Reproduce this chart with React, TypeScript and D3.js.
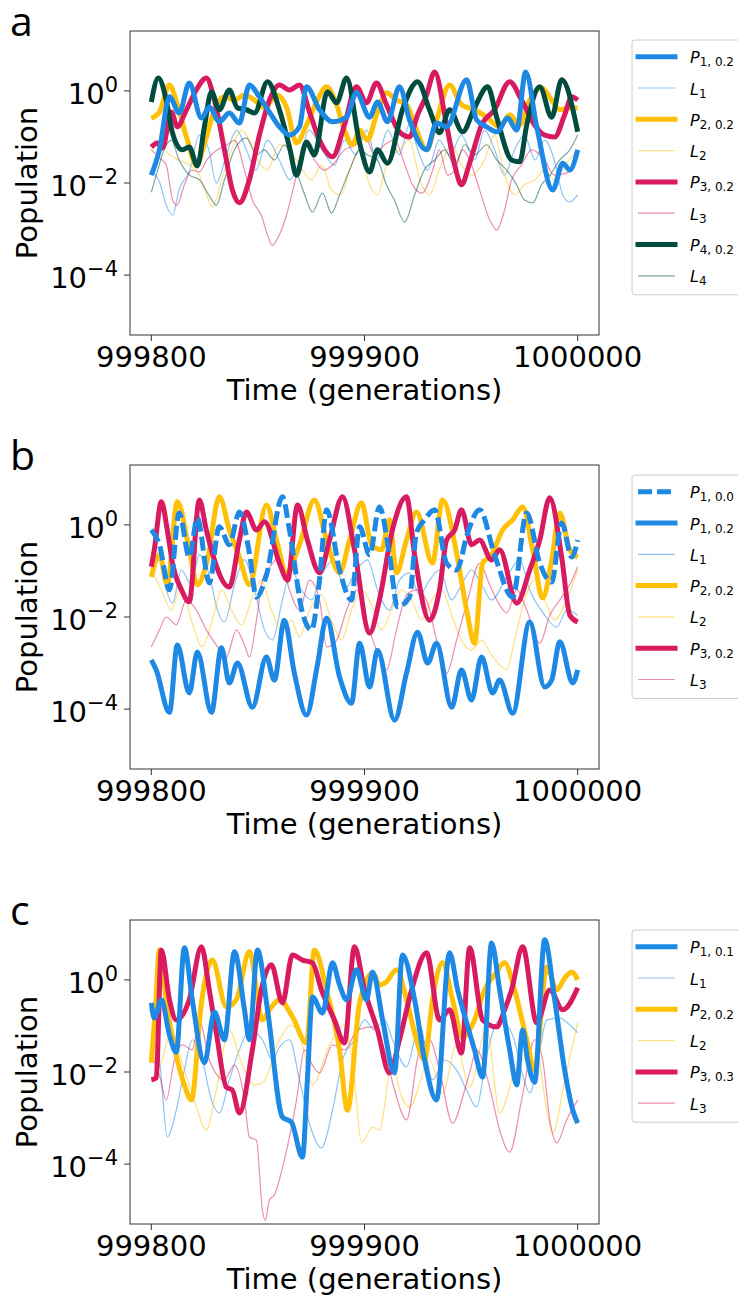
import React from "react";
import * as d3 from "d3";

type Pt = [number, number]; // [generation offset from T0, log10(population)]

const T0 = 999800;
const X_TICKS = [999800, 999900, 1000000];
const Y_TICK_EXP = [0, -2, -4];
const Y_MIN_EXP = -5.3;
const Y_MAX_EXP = 1.3;

const BLUE = "#1E88E5";
const YELLOW = "#FFC107";
const RED = "#D81B60";
const GREEN = "#004D40";

// ---------- panel a ----------
const aP1: Pt[] = [[0,-1.83],[3.8,-1.28],[8.5,-0.13],[13.1,-0.48],[17.8,0.17],[23.5,-0.59],[27.2,-0.35],[31.9,-0.67],[36.6,-0.48],[41.3,-0.70],[46,0.13],[50.7,-0.13],[55.4,-0.46],[60.1,-0.78],[64.8,-0.96],[69.5,-0.78],[72.8,0.09],[78.9,-0.41],[85,-0.67],[91.6,-0.57],[96.2,-0.04],[102.4,-0.57],[106.1,-0.24],[110.8,-0.67],[116.4,0.09],[121.1,-0.63],[129.1,-1.28],[133.8,-0.70],[138.5,-0.78],[147.9,0.24],[152.6,-0.63],[157.3,-0.78],[162.4,-0.89],[167.1,-0.59],[171.4,-0.85],[175.6,0.41],[180.8,-0.78],[188.3,-2.15],[193,-1.57],[196.3,-1.72],[200,-1.28]];
const aL1: Pt[] = [[0,-1.72],[4,-2.0],[7,-2.48],[10,-2.70],[13,-2.15],[18,-1.72],[22.5,-0.96],[27,-1.28],[30.5,-2.0],[35,-1.43],[40,-0.85],[44.6,-1.28],[49,-1.72],[54.5,-1.07],[60,-1.50],[65,-1.93],[69.5,-1.50],[74,-0.85],[80,-1.28],[86,-1.61],[90.6,-1.07],[96,-1.39],[101,-0.85],[105.6,-1.50],[111,-0.85],[116.4,-1.39],[121,-0.74],[125,-1.28],[129.6,-1.72],[135,-1.07],[140,-1.39],[145.5,-0.96],[151.6,-1.50],[156.3,-0.85],[161,-1.28],[165.7,-1.83],[170.4,-1.28],[175,-0.96],[180,-1.50],[184.5,-1.07],[189,-1.50],[193,-2.26],[196.3,-2.41],[200,-2.26]];
const aP2: Pt[] = [[0,-0.59],[3.8,-0.46],[8.5,0.13],[12.2,-0.30],[16.9,-1.07],[21.1,-1.61],[25.4,-1.07],[29.6,-0.41],[34.3,-0.13],[39,-0.20],[43.7,-0.09],[48.4,-0.20],[53.1,-0.37],[58.7,-0.09],[63.4,-0.35],[68.1,-1.13],[72.8,-0.74],[77.9,-0.20],[82.2,0.09],[86.9,-0.30],[90.6,-0.85],[94.4,-1.17],[97.7,-0.85],[101.4,-1.07],[105.6,-0.52],[110.3,-0.04],[115,-0.20],[119.7,-0.30],[124.4,-0.85],[129.1,-1.28],[133.8,-0.63],[139.9,0.13],[145.5,-0.30],[151.6,-0.41],[157.3,-0.57],[163.4,-0.78],[168.1,-0.52],[172.8,-0.74],[177.5,-0.20],[183.1,0.07],[187.8,-0.20],[191.6,-0.41],[196.3,-0.37],[200,-0.37]];
const aL2: Pt[] = [[0,-1.28],[4,-1.17],[8.5,-1.39],[13,-1.50],[18,-1.61],[22.5,-1.83],[26,-2.26],[28.6,-2.52],[33,-1.93],[37.6,-1.28],[42.3,-0.85],[46,-1.07],[50,-1.50],[54.5,-1.72],[60,-1.17],[65,-1.28],[69.5,-1.61],[75,-1.93],[80,-1.61],[84.5,-2.15],[89,-2.26],[93,-1.72],[97.7,-1.28],[102.4,-2.04],[106,-2.26],[111,-1.50],[116.4,-1.28],[121,-1.07],[126,-1.93],[130.5,-2.26],[135,-1.72],[141,-1.17],[145.5,-1.61],[150,-1.83],[156.3,-1.50],[161,-0.96],[165.7,-1.83],[170.4,-2.26],[175,-2.04],[180,-1.93],[184.5,-1.72],[189,-1.93],[194,-1.61],[200,-1.28]];
const aP3: Pt[] = [[0,-1.22],[2.8,-1.13],[5.2,-1.24],[9.4,-0.46],[12.2,-0.78],[16,-0.46],[21.1,0.02],[25.8,0.28],[29.6,-0.20],[34.3,-1.28],[38,-2.15],[41.3,-2.43],[46,-1.93],[50.7,-0.96],[55.4,-0.20],[60.1,0.13],[64.8,0.02],[69.5,0.13],[74.2,-0.46],[78.9,-1.07],[85,-1.43],[90.6,-0.74],[96.2,0.09],[100.9,-0.26],[105.6,0.17],[110.3,-0.30],[116.4,-0.89],[121.1,-1.0],[124.9,-0.52],[129.1,-0.09],[132.9,0.41],[138.5,-0.74],[142.3,-1.61],[145.5,-2.04],[149.3,-1.57],[154.9,-0.74],[161,-0.41],[168.1,0.20],[173.7,-0.20],[179.8,-0.74],[184.5,-0.96],[189.2,-1.0],[193.9,-0.52],[197.2,-0.13],[200,-0.20]];
const aL3: Pt[] = [[0,-1.28],[4,-1.46],[7,-1.61],[10,-2.37],[12,-2.48],[15.5,-2.04],[19,-1.72],[22.5,-1.76],[26,-1.50],[31,-1.28],[35.7,-1.17],[39,-1.07],[43.7,-1.72],[47.4,-2.37],[51.6,-2.70],[54.5,-3.13],[56.8,-3.35],[60,-3.13],[63.4,-2.70],[67,-2.04],[72,-1.17],[76.5,-1.50],[81,-1.72],[85,-1.61],[90.6,-1.28],[96,-1.17],[100,-0.96],[104.7,-1.39],[109.4,-1.17],[114,-1.07],[119,-1.61],[122.5,-2.04],[127,-2.22],[132,-1.72],[135,-1.28],[139,-1.83],[142.3,-1.72],[146,-1.28],[149.3,-1.50],[154,-2.15],[158.7,-2.80],[162,-3.02],[165.7,-2.59],[169,-1.93],[173.7,-1.61],[178.4,-1.28],[184.5,-1.50],[189,-1.83],[195,-1.78],[200,-1.28]];
const aP4: Pt[] = [[0,-0.24],[3.3,0.28],[7,-0.20],[9.9,-0.91],[14.6,-1.28],[17.8,-1.22],[21.6,-1.63],[24.9,-0.78],[28.2,-0.02],[31.9,-0.41],[36.6,0.02],[40.4,-0.37],[44.6,-0.41],[48.4,-0.48],[54.5,0.20],[60.1,-0.41],[64.8,-1.22],[68.1,-1.83],[72.8,-1.11],[76.5,-1.39],[82.6,-0.02],[86.9,-0.26],[91.6,0.28],[97.7,-1.13],[102.4,-1.76],[106.1,-1.28],[110.8,-1.57],[117.8,-0.41],[124.9,0.20],[130.5,-0.41],[135.2,-0.91],[139.9,-0.41],[146,-0.89],[151.6,-0.37],[157.8,0.09],[162,-0.57],[169,-1.50],[172.8,-1.54],[176.1,-0.74],[182.2,0.09],[187.8,-0.57],[192.5,0.24],[200,-0.89]];
const aL4: Pt[] = [[0,-2.20],[3,-1.72],[6,-1.28],[9.4,-1.07],[13,-1.50],[18,-1.83],[22.5,-1.93],[27,-2.26],[30.5,-2.48],[34.3,-1.93],[39,-1.28],[44.6,-1.02],[49.3,-1.39],[53,-1.28],[57.7,-1.50],[62.4,-1.17],[67,-1.61],[72,-2.26],[75.6,-2.63],[80.3,-2.22],[84.5,-2.65],[88.3,-2.26],[93,-1.72],[97.7,-1.28],[101.4,-1.39],[106,-1.50],[110.3,-2.04],[114,-2.37],[118.8,-2.85],[123.5,-2.26],[128,-1.72],[133,-1.50],[137.6,-1.28],[142.3,-1.61],[147,-1.17],[151.6,-1.39],[157.3,-1.17],[162,-1.50],[166.7,-1.72],[171.4,-2.04],[175,-2.37],[179,-2.43],[183,-2.04],[187,-1.83],[191.6,-1.50],[196.3,-1.28],[200,-0.96]];

// ---------- panel b ----------
const bP10: Pt[] = [[0,-0.11],[3.8,-0.43],[8.5,-1.41],[13.1,0.26],[17.8,-0.70],[21.6,0.15],[27.2,-1.26],[31.9,-0.04],[36.6,-0.43],[41.3,0.28],[46,-0.61],[49.3,-1.57],[54,-1.09],[61.5,0.61],[64.8,-0.11],[70.9,-1.91],[75.1,-2.28],[78.9,-1.20],[82.2,0.33],[88.3,-0.98],[93.9,-1.63],[97.7,-0.04],[102.4,-0.65],[107,0.39],[111.7,-0.65],[115.5,-1.78],[121.1,-1.57],[124.4,-0.17],[128.2,0.11],[132.9,0.33],[138.5,-0.83],[143.2,-0.98],[148.4,-0.17],[154,0.33],[161,-0.65],[169.5,-1.57],[176.1,0.26],[182.2,-0.83],[187.8,-1.24],[192.5,0.04],[197.2,-0.70],[200,-0.33]];
const bP1: Pt[] = [[0,-2.93],[2.3,-3.15],[8.5,-4.07],[12.2,-2.61],[17.8,-3.65],[21.6,-2.76],[28.2,-4.07],[32.9,-2.67],[36.6,-3.43],[40.4,-3.0],[47.4,-3.96],[54,-2.87],[57.7,-3.37],[62.4,-2.07],[67.1,-3.22],[72.8,-4.13],[77.9,-3.04],[82.2,-2.02],[88.3,-3.30],[93.9,-3.87],[97.7,-2.57],[102.4,-3.52],[106.1,-2.72],[114.1,-4.24],[119.7,-3.22],[124.9,-2.33],[129.6,-3.0],[133.8,-2.57],[140.9,-3.96],[145.5,-3.15],[150.2,-3.80],[154.9,-2.87],[160.1,-3.65],[163.4,-3.37],[169.5,-4.09],[177.5,-2.11],[184.5,-3.52],[187.8,-3.37],[191.6,-2.54],[197.7,-3.43],[200,-3.15]];
const bL1: Pt[] = [[0,-1.09],[3.8,-0.76],[7,-1.41],[9.9,-1.70],[14.1,-0.98],[18.8,-1.30],[22.5,-0.65],[27.2,-1.09],[31,-1.85],[34.3,-2.11],[39,-1.30],[43.7,-0.76],[48.4,-1.41],[53.1,-2.28],[56.8,-2.50],[61.5,-1.63],[65.7,-0.98],[70.4,-1.41],[75.1,-1.63],[79.8,-1.09],[85.9,-0.76],[90.6,-1.41],[96.2,-0.98],[101.4,-0.76],[106.1,-1.41],[111.7,-1.85],[116.4,-1.20],[121.1,-1.04],[125.8,-1.52],[130.5,-1.20],[135.2,-0.98],[140.9,-1.63],[145.5,-1.30],[150.2,-0.98],[154.9,-1.30],[159.6,-1.63],[166.7,-1.13],[172.8,-0.76],[177.5,-1.41],[184.5,-1.96],[190.2,-2.22],[194.8,-1.85],[200,-1.96]];
const bP2: Pt[] = [[0,-1.13],[3.8,-0.65],[7.5,-1.30],[12.2,0.50],[17.8,-0.54],[21.6,-1.30],[26.3,-0.76],[31.9,0.61],[36.6,-0.11],[41.3,-0.70],[46,-1.30],[54,0.43],[58.7,-0.33],[63.4,-1.04],[69.5,-0.43],[76.5,0.54],[82.2,-0.33],[88.3,-1.04],[93,-0.33],[98.6,0.48],[103.3,-0.43],[108,-0.54],[111.7,0.11],[115,-1.04],[119.7,-0.33],[124.4,0.28],[131.9,-0.83],[136.6,0.54],[143.2,-0.61],[147.9,-1.85],[151.6,-2.57],[155.4,-0.83],[159.6,-0.65],[164.8,-0.11],[169.5,0.11],[174.2,0.39],[178.9,-0.54],[183.6,-1.59],[187.8,-0.76],[191.6,0.26],[196.3,-0.54],[200,-0.70]];
const bL2: Pt[] = [[0,-0.98],[4.7,-1.41],[9.4,-1.85],[14.1,-1.30],[18.8,-2.07],[23.9,-2.65],[28.6,-2.07],[32.9,-1.41],[37.6,-1.85],[42.3,-2.17],[46.9,-1.63],[51.6,-1.20],[56.3,-1.85],[61,-2.28],[65.7,-2.07],[69.5,-2.43],[74.2,-1.85],[79.8,-1.52],[84.5,-2.07],[89.2,-2.50],[93.9,-1.85],[98.6,-1.41],[103.3,-1.74],[108,-2.28],[112.7,-1.85],[117.4,-1.41],[122.1,-1.63],[126.8,-2.07],[131.5,-1.63],[136.2,-1.41],[140.9,-1.96],[145.5,-2.50],[150.2,-2.72],[154.9,-2.50],[159.6,-2.83],[163.4,-3.04],[166.7,-3.15],[170.4,-2.50],[175.1,-1.63],[179.8,-1.20],[184.5,-1.63],[189.2,-2.07],[194.8,-1.63],[200,-0.98]];
const bP3: Pt[] = [[0,-0.91],[1.4,-0.54],[4.7,0.50],[7.5,-0.11],[9.9,-0.83],[14.1,-1.41],[17.8,-1.67],[22.5,0.54],[25.8,-0.11],[28.6,-0.61],[36.6,-1.35],[41.3,-0.33],[44.6,0.28],[49.3,-0.11],[53.1,0.07],[60.1,-0.83],[63.9,-1.20],[68.6,0.43],[73.2,-0.33],[78.9,-1.04],[83.6,-0.33],[89.7,0.61],[95.3,-0.54],[102.4,-2.35],[107,-1.63],[113.1,-0.11],[119.7,0.61],[123.5,-0.65],[130.5,-2.07],[135.2,-1.41],[138.5,-0.33],[142.3,-0.11],[145.5,0.33],[150.2,-0.43],[154,-0.33],[159.6,-0.76],[163.4,-0.54],[171.4,-1.70],[177.5,-0.98],[182.2,-0.33],[186.9,0.59],[192.5,-0.70],[196.3,-1.96],[200,-2.11]];
const bL3: Pt[] = [[0,-2.65],[3.8,-2.28],[7,-2.0],[11.7,-2.17],[16.4,-1.63],[21.1,-1.85],[25.8,-2.28],[30.5,-2.61],[35.2,-2.87],[39.9,-2.28],[43.7,-2.61],[46,-2.87],[49.3,-2.07],[52.1,-1.20],[56.3,-0.87],[60.1,-0.70],[64.8,-1.41],[69.5,-1.85],[74.2,-1.20],[78.9,-1.63],[82.2,-2.65],[86.9,-2.50],[91.6,-1.85],[96.2,-1.41],[100.9,-2.07],[105.6,-2.72],[110.3,-3.15],[115,-2.28],[119.7,-1.52],[124.4,-1.41],[129.1,-1.63],[133.8,-2.50],[138.5,-3.22],[143.2,-2.50],[148.4,-1.63],[154,-0.83],[158.7,-1.30],[163.4,-1.74],[166.7,-1.91],[171.4,-1.41],[176.1,-1.85],[182.2,-2.57],[186.9,-1.96],[191.6,-1.63],[196.3,-1.30],[200,-0.91]];

// ---------- panel c ----------
const cP1: Pt[] = [[0,-0.50],[1.4,-0.83],[4.7,-0.43],[8.5,-1.20],[11.7,-1.57],[15.5,0.70],[19.2,-0.43],[24.9,-1.80],[29.6,-0.70],[34.3,-1.30],[39,0.61],[43.7,-0.65],[46,-1.30],[49.8,0.65],[54.5,-0.65],[61.5,-2.98],[65.7,-3.09],[70.9,-3.85],[73.2,-2.17],[75.6,-0.37],[80.3,-0.72],[85,0.37],[88.3,-0.11],[91.6,-0.43],[96.2,0.22],[100.9,-0.43],[103.8,0.17],[108.5,-0.87],[114.1,-2.02],[117.8,0.54],[123.5,-0.43],[128.2,-1.74],[133.8,-2.61],[139.9,0.59],[143.7,-0.22],[147.9,-0.93],[151.6,-1.52],[155.4,-2.11],[159.6,0.80],[163.4,-0.22],[168.1,-1.52],[171.4,-2.28],[174.2,-1.09],[176.5,-1.74],[179.8,-2.22],[184.5,0.87],[189.2,-0.43],[193.9,-1.96],[197.7,-2.83],[200,-3.11]];
const cL1: Pt[] = [[0,-1.24],[3.8,-1.74],[7.5,-3.41],[11.7,-2.83],[15.5,-1.96],[19.2,-1.30],[23.9,-1.74],[28.2,-2.61],[31.9,-2.89],[36.6,-2.17],[41.3,-1.52],[46,-1.09],[52.1,-1.30],[56.8,-1.74],[60.1,-1.46],[64.8,-1.30],[69.5,-2.17],[75.1,-3.26],[79.8,-3.65],[85,-2.83],[89.7,-1.74],[95.3,-1.30],[100,-0.87],[104.7,-1.09],[109.4,-0.87],[113.1,-1.30],[119.7,-1.89],[125.8,-0.98],[131.9,-2.17],[137.6,-1.74],[143.2,-1.96],[147.9,-2.39],[152.6,-2.76],[157.3,-1.63],[163.4,-0.87],[169.5,-1.20],[174.2,-2.07],[177.5,-2.46],[182.2,-1.52],[185.5,-0.87],[191.6,-0.83],[196.3,-0.98],[200,-1.15]];
const cP2: Pt[] = [[0,-1.80],[1.9,-0.65],[3.8,0.65],[7.5,-0.65],[12.2,-1.74],[15.5,-2.28],[18.8,-2.61],[23.5,-0.50],[28.6,0.43],[35.2,-0.59],[39.9,-0.43],[46,0.61],[52.1,-0.87],[55.4,-0.65],[60.1,-0.43],[66.2,-0.80],[72.8,-1.37],[76.5,0.65],[82.2,-0.22],[88.3,-1.52],[92,-2.83],[97.7,-0.50],[103.8,0.15],[107,-0.11],[110.3,-0.04],[115,0.22],[119.7,-0.43],[124.4,-1.30],[128.2,-1.74],[131.9,-0.43],[136.6,0.37],[141.3,-0.43],[146,-1.24],[151.6,-0.87],[156.3,-0.22],[161,0.11],[165.7,0.37],[170.4,-0.22],[176.1,-1.30],[179.8,-1.96],[185.5,0.28],[190.2,-0.22],[193.9,0.04],[197.2,0.17],[200,0.0]];
const cL2: Pt[] = [[0,-1.52],[3.8,-1.85],[9.4,-1.09],[14.1,-1.74],[20.2,-2.61],[25.8,-3.26],[30.5,-2.39],[36.6,-1.09],[42.7,-1.85],[48.4,-2.28],[52.1,-2.24],[60.1,-1.30],[65.7,-0.98],[70.9,-1.41],[75.6,-2.28],[83.6,-1.41],[90.6,-0.98],[95.3,-2.17],[98.6,-3.54],[103.8,-3.20],[107,-3.26],[113.1,-1.74],[116.4,-2.39],[121.1,-2.76],[130.5,-1.74],[136.6,-2.46],[143.2,-1.41],[149.3,-2.33],[157.3,-1.02],[163.4,-2.89],[171.4,-1.89],[180.8,-1.59],[185.5,-2.83],[188.3,-3.33],[193.9,-2.17],[200,-0.93]];
const cP3: Pt[] = [[0,-2.17],[2.3,-2.13],[4.7,0.65],[8.5,-0.43],[11.7,-0.87],[17.8,-0.43],[23.5,0.72],[27.2,-0.22],[30.5,-1.15],[35.2,-2.33],[38,-2.39],[41.3,-2.89],[47.4,-1.52],[51.6,-0.22],[56.3,0.33],[61.5,-0.50],[66.2,0.54],[70.9,0.43],[75.6,0.37],[79.8,-0.22],[85.9,-0.87],[90.6,-1.37],[95.3,0.72],[100,-0.22],[106.1,-1.09],[111.7,-2.02],[116.4,-1.30],[122.1,-0.22],[129.1,0.59],[135.2,-0.87],[139.9,-0.65],[145.5,-1.59],[149.3,0.70],[155.4,-0.87],[162,-1.02],[165.7,-0.65],[169,-0.22],[174.2,0.72],[180.8,-0.93],[186.9,-0.22],[193,-0.65],[200,-0.17]];
const cL3: Pt[] = [[0,-1.63],[3.8,-2.07],[7,-2.61],[10.8,-1.74],[14.6,-1.41],[19.2,-1.52],[22.5,-0.87],[27.2,-1.74],[34.3,-2.17],[39,-1.85],[43.7,-2.61],[46,-3.41],[49.3,-3.48],[52.1,-5.0],[53.5,-5.22],[55.4,-4.78],[57.7,-4.67],[62.4,-3.91],[68.1,-2.61],[71.8,-1.52],[75.6,-1.85],[78.9,-2.02],[85,-1.41],[90.6,-1.52],[96.7,-1.09],[103.3,-1.02],[109.4,-1.52],[114.1,-2.39],[119.7,-3.04],[125.8,-1.52],[130.5,-1.30],[135.2,-1.96],[141.3,-3.11],[147,-2.39],[149.3,-2.02],[152.6,-1.52],[158.7,-2.33],[163.4,-3.26],[168.1,-3.74],[173.7,-2.61],[179.8,-1.30],[183.6,-1.74],[186.9,-3.04],[190.2,-3.54],[194.8,-3.04],[200,-2.61]];

type Series = { name: string; sub: string; color: string; thick: boolean; dashed?: boolean; z: number; data: Pt[] };

const SERIES_A: Series[] = [
  { name: "P", sub: "1, 0.2", color: BLUE, thick: true, z: 10, data: aP1 },
  { name: "L", sub: "1", color: BLUE, thick: false, z: 1, data: aL1 },
  { name: "P", sub: "2, 0.2", color: YELLOW, thick: true, z: 5, data: aP2 },
  { name: "L", sub: "2", color: YELLOW, thick: false, z: 2, data: aL2 },
  { name: "P", sub: "3, 0.2", color: RED, thick: true, z: 6, data: aP3 },
  { name: "L", sub: "3", color: RED, thick: false, z: 3, data: aL3 },
  { name: "P", sub: "4, 0.2", color: GREEN, thick: true, z: 7, data: aP4 },
  { name: "L", sub: "4", color: GREEN, thick: false, z: 4, data: aL4 },
];
const SERIES_B: Series[] = [
  { name: "P", sub: "1, 0.0", color: BLUE, thick: true, dashed: true, z: 9, data: bP10 },
  { name: "P", sub: "1, 0.2", color: BLUE, thick: true, z: 10, data: bP1 },
  { name: "L", sub: "1", color: BLUE, thick: false, z: 1, data: bL1 },
  { name: "P", sub: "2, 0.2", color: YELLOW, thick: true, z: 5, data: bP2 },
  { name: "L", sub: "2", color: YELLOW, thick: false, z: 2, data: bL2 },
  { name: "P", sub: "3, 0.2", color: RED, thick: true, z: 6, data: bP3 },
  { name: "L", sub: "3", color: RED, thick: false, z: 3, data: bL3 },
];
const SERIES_C: Series[] = [
  { name: "P", sub: "1, 0.1", color: BLUE, thick: true, z: 10, data: cP1 },
  { name: "L", sub: "1", color: BLUE, thick: false, z: 1, data: cL1 },
  { name: "P", sub: "2, 0.2", color: YELLOW, thick: true, z: 5, data: cP2 },
  { name: "L", sub: "2", color: YELLOW, thick: false, z: 2, data: cL2 },
  { name: "P", sub: "3, 0.3", color: RED, thick: true, z: 6, data: cP3 },
  { name: "L", sub: "3", color: RED, thick: false, z: 3, data: cL3 },
];

const PL = 130;
const PR = 599;
const PH = 304;
const FONT = "'DejaVu Sans', sans-serif";

function Panel({ top, letter, series, legendTop }: { top: number; letter: string; series: Series[]; legendTop: number }) {
  const x = d3.scaleLinear().domain([T0 - 10, T0 + 210]).range([PL, PR]);
  const y = d3.scaleLog().domain([10 ** Y_MIN_EXP, 10 ** Y_MAX_EXP]).range([top + PH, top]);
  const line = d3
    .line<Pt>()
    .x((d) => x(T0 + d[0]))
    .y((d) => y(10 ** d[1]))
    .curve(d3.curveMonotoneX);
  const clipId = `clip-${letter}`;
  const ordered = [...series].sort((a, b) => a.z - b.z);
  const bottom = top + PH;
  const step = 31.3;
  const firstY = legendTop + 16.7;
  const boxH = (series.length - 1) * step + 16.7 + 19;
  return (
    <g>
      <defs>
        <clipPath id={clipId}>
          <rect x={PL} y={top} width={PR - PL} height={PH} />
        </clipPath>
      </defs>
      <text x={10} y={top + 5} fontFamily="'Open Sans', sans-serif" fontSize={41} fill="#000">
        {letter}
      </text>
      <g clipPath={`url(#${clipId})`}>
        {ordered.map((s, i) => (
          <path
            key={i}
            d={line(s.data) || ""}
            fill="none"
            stroke={s.color}
            strokeWidth={s.thick ? 5 : 1.2}
            strokeOpacity={s.thick ? 1 : 0.5}
            strokeDasharray={s.dashed ? "14 5" : undefined}
            strokeLinejoin="round"
          />
        ))}
      </g>
      <rect x={PL} y={top} width={PR - PL} height={PH} fill="none" stroke="#333" strokeWidth={1} />
      {X_TICKS.map((t) => (
        <g key={t}>
          <line x1={x(t)} x2={x(t)} y1={bottom} y2={bottom + 6} stroke="#333" strokeWidth={1} />
          <text x={x(t)} y={bottom + 32} textAnchor="middle" fontFamily={FONT} fontSize={29} fill="#000">
            {t}
          </text>
        </g>
      ))}
      {Y_TICK_EXP.map((e) => (
        <g key={e}>
          <line x1={PL - 6} x2={PL} y1={y(10 ** e)} y2={y(10 ** e)} stroke="#333" strokeWidth={1} />
          <text x={118} y={y(10 ** e) + 13} textAnchor="end" fontFamily={FONT} fontSize={29} fill="#000">
            10
            <tspan dy={-12} fontSize={21}>
              {e < 0 ? `\u2212${-e}` : `${e}`}
            </tspan>
          </text>
        </g>
      ))}
      <text x={(PL + PR) / 2} y={bottom + 65} textAnchor="middle" fontFamily={FONT} fontSize={29} fill="#000">
        Time (generations)
      </text>
      <text
        transform={`translate(37, ${top + PH / 2}) rotate(-90)`}
        textAnchor="middle"
        fontFamily={FONT}
        fontSize={29}
        fill="#000"
      >
        Population
      </text>
      <rect x={632} y={legendTop} width={200} height={boxH} rx={3} fill="#fff" fillOpacity={0.8} stroke="#cccccc" strokeWidth={1} />
      {series.map((s, i) => {
        const ly = firstY + i * step;
        return (
          <g key={i}>
            <line
              x1={638}
              x2={675}
              y1={ly}
              y2={ly}
              stroke={s.color}
              strokeWidth={s.thick ? 5 : 1.2}
              strokeOpacity={s.thick ? 1 : 0.5}
              strokeDasharray={s.dashed ? "14 5" : undefined}
              strokeLinecap={s.thick && !s.dashed ? "square" : "butt"}
            />
            <text x={690} y={ly + 6.5} fontFamily={FONT} fontSize={16} fill="#000">
              <tspan fontStyle="italic">{s.name}</tspan>
              <tspan dy={3} fontSize={12}>
                {s.sub}
              </tspan>
            </text>
          </g>
        );
      })}
    </g>
  );
}

export default function App() {
  return (
    <svg
      width={738}
      height={1299}
      viewBox="0 0 738 1299"
      style={{ position: "absolute", left: 0, top: 0, background: "#fff" }}
    >
      <rect x={0} y={0} width={738} height={1299} fill="#fff" />
      <Panel top={31} letter="a" series={SERIES_A} legendTop={40} />
      <Panel top={465} letter="b" series={SERIES_B} legendTop={475} />
      <Panel top={920} letter="c" series={SERIES_C} legendTop={930} />
    </svg>
  );
}
